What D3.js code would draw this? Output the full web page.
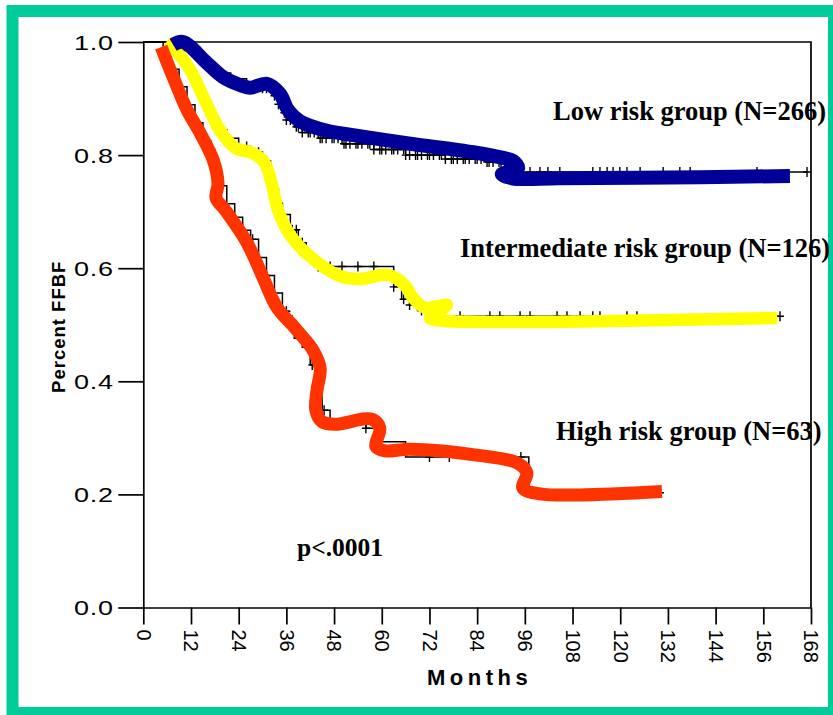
<!DOCTYPE html>
<html>
<head>
<meta charset="utf-8">
<script src="https://cdn.jsdelivr.net/npm/d3@7.9.0/dist/d3.min.js"></script>
<style>
  body { margin: 0; background: #fff; }
  svg { display: block; }
</style>
</head>
<body>
<svg width="833" height="715"></svg>
<script>
// axis ticks
const monthTicks = [0, 12, 24, 36, 48, 60, 72, 84, 96, 108, 120, 132, 144, 156, 168];
const ffbfTicks = [0, 0.2, 0.4, 0.6, 0.8, 1.0];

// hand-drawn trend curves (months, FFBF)
const lowTraceMonths = [7.5, 10.0, 16.0, 20.1, 24.3, 26.8, 31.1, 34.4, 36.4, 39.4, 46.2, 49.5, 66.3, 83.0, 90.5, 93.0, 94.3, 90.2, 92.8, 104.8, 140.1, 162.7];
const lowTraceFFBF = [0.995, 1.0, 0.963, 0.938, 0.924, 0.919, 0.926, 0.908, 0.880, 0.860, 0.843, 0.839, 0.821, 0.805, 0.795, 0.790, 0.777, 0.766, 0.759, 0.759, 0.761, 0.763];
const midTraceMonths = [5.5, 9.2, 12.2, 15.5, 19.3, 23.1, 27.4, 30.4, 32.4, 33.9, 36.9, 41.9, 49.5, 54.5, 61.6, 65.8, 67.9, 70.9, 76.4, 72.1, 75.9, 84.7, 102.3, 159.5];
const midTraceFFBF = [0.997, 0.976, 0.946, 0.897, 0.844, 0.813, 0.804, 0.788, 0.747, 0.703, 0.659, 0.621, 0.586, 0.581, 0.588, 0.570, 0.547, 0.530, 0.535, 0.512, 0.507, 0.505, 0.505, 0.512];
const highTraceMonths = [4.5, 7.5, 11.0, 14.3, 17.6, 18.8, 18.3, 20.6, 26.1, 30.1, 33.6, 38.2, 42.7, 44.5, 43.7, 43.4, 44.9, 48.2, 57.5, 59.5, 58.5, 60.8, 67.1, 83.4, 94.3, 96.5, 95.5, 99.8, 109.9, 130.5];
const highTraceFFBF = [0.991, 0.938, 0.880, 0.839, 0.791, 0.750, 0.724, 0.703, 0.645, 0.584, 0.531, 0.494, 0.455, 0.423, 0.384, 0.349, 0.329, 0.324, 0.333, 0.317, 0.285, 0.277, 0.280, 0.270, 0.255, 0.238, 0.211, 0.201, 0.199, 0.205];

// Kaplan-Meier steps underneath
const lowKmMonths = [0, 9, 13, 16, 19, 22, 26, 30, 33, 34, 35, 36, 38, 40, 44, 50, 58, 66, 76, 86, 94, 167];
const lowKmFFBF = [1, 0.985, 0.97, 0.958, 0.945, 0.935, 0.925, 0.918, 0.905, 0.89, 0.875, 0.862, 0.85, 0.84, 0.83, 0.82, 0.81, 0.80, 0.793, 0.788, 0.770, 0.770];
const lowCensored = [30, 31, 32.5, 33, 34, 35.5, 36, 37, 38.5, 39, 40, 41.5, 42, 43, 44.5, 45, 46, 47.5, 48, 49, 50.5, 51, 52, 53.5, 54, 55, 56.5, 57, 58, 59.5, 60, 61, 62.5, 63, 64, 65.5, 66, 67, 68.5, 69, 70, 71.5, 72, 73, 74.5, 75, 76, 77.5, 78, 79, 80.5, 81, 82, 83.5, 84, 85, 86.5, 87, 88, 89.5, 90, 91, 92.5, 94.8, 97.3, 99.8, 101.8, 104.8, 113.1, 114.9, 116.7, 118.2, 119.9, 121.7, 125, 130.8, 135, 137.6, 154.4, 167];

const midKmMonths = [0, 6, 9, 11, 13, 15, 17, 19, 21, 24, 27, 30, 32, 33, 34, 35, 37, 39, 41, 43, 63, 65, 67, 69, 72, 160];
const midKmFFBF = [1, 0.98, 0.965, 0.945, 0.92, 0.895, 0.865, 0.845, 0.83, 0.815, 0.805, 0.79, 0.765, 0.74, 0.715, 0.695, 0.668, 0.645, 0.625, 0.603, 0.567, 0.545, 0.535, 0.525, 0.515, 0.515];
const midCensored = [26, 29, 31, 34, 37.5, 38.5, 40, 41.5, 44, 47, 50, 54, 58, 63, 65.5, 67, 70, 79.7, 87.2, 89.7, 94.8, 97.3, 104.1, 106.6, 109.9, 113.1, 114.9, 121.7, 124.2, 160.2];

const highKmMonths = [0, 5, 7, 9, 11, 13, 15, 17, 18, 19, 21, 23, 25, 27, 29, 31, 33, 35, 36.5, 38, 40, 42, 44, 45, 47, 56, 59.5, 66, 97, 130];
const highKmFFBF = [1, 0.984, 0.952, 0.921, 0.889, 0.857, 0.825, 0.81, 0.778, 0.746, 0.714, 0.69, 0.667, 0.651, 0.619, 0.587, 0.556, 0.524, 0.508, 0.476, 0.46, 0.429, 0.397, 0.349, 0.333, 0.317, 0.293, 0.266, 0.203, 0.203];
const highCensored = [27.5, 31, 36, 37.5, 42.5, 45.5, 56, 72, 77, 95, 130];

const svg = d3.select('svg');
const x = d3.scaleLinear().domain([0, 168]).range([143.3, 811]);
const y = d3.scaleLinear().domain([0, 1]).range([607.5, 42]);

// teal frame
svg.append('rect')
  .attr('x', 12.5).attr('y', 11)
  .attr('width', 821.5).attr('height', 702)
  .attr('fill', 'none')
  .attr('stroke', '#00CC99')
  .attr('stroke-width', 12);

// axes
const xAxis = svg.append('g')
  .attr('transform', `translate(0,${y(0)})`)
  .call(d3.axisBottom(x).tickValues(monthTicks).tickSize(17).tickSizeOuter(0));
xAxis.selectAll('text')
  .attr('transform', 'rotate(90)')
  .attr('x', 22).attr('y', 0).attr('dy', '0.36em')
  .style('text-anchor', 'start')
  .style('font-family', 'Liberation Sans, Arial, sans-serif')
  .style('font-size', '20px')
  .attr('fill', '#000');

const yAxis = svg.append('g')
  .attr('transform', `translate(${x(0)},0)`)
  .call(d3.axisLeft(y).tickValues(ffbfTicks).tickSize(25).tickSizeOuter(0).tickFormat(d3.format('.1f')));
yAxis.selectAll('text')
  .attr('transform', 'scale(1.35,1)')
  .attr('x', -22)
  .attr('dy', '0.36em')
  .style('font-family', 'Liberation Sans, Arial, sans-serif')
  .style('font-size', '20px')
  .style('letter-spacing', '0.5px')
  .attr('fill', '#000');

svg.selectAll('.domain, .tick line').attr('stroke', '#000').attr('stroke-width', 1.7);

// top and right border of the plot box
svg.append('path')
  .attr('d', `M${x(0)},${y(1)}H${x(168)}V${y(0)}`)
  .attr('fill', 'none')
  .attr('stroke', '#000')
  .attr('stroke-width', 1.7);

// axis titles
svg.append('text')
  .attr('transform', `translate(65,${(y(0) + y(1)) / 2 + 2}) rotate(-90)`)
  .attr('text-anchor', 'middle')
  .style('font-family', 'Liberation Sans, Arial, sans-serif')
  .style('font-weight', 'bold')
  .style('font-size', '18.5px')
  .style('letter-spacing', '1px')
  .text('Percent FFBF');

svg.append('text')
  .attr('x', 427).attr('y', 685)
  .style('font-family', 'Liberation Sans, Arial, sans-serif')
  .style('font-weight', 'bold')
  .style('font-size', '22px')
  .style('letter-spacing', '4.5px')
  .text('Months');

// KM steps and censoring marks
function kmAt(months, ffbf, t) {
  let i = d3.bisectRight(months, t) - 1;
  return ffbf[Math.max(0, i)];
}

const stepLine = d3.line()
  .x(d => x(d[0]))
  .y(d => y(d[1]))
  .curve(d3.curveStepAfter);

const kmGroups = [
  [lowKmMonths, lowKmFFBF, lowCensored],
  [midKmMonths, midKmFFBF, midCensored],
  [highKmMonths, highKmFFBF, highCensored]
];

kmGroups.forEach(([months, ffbf, censored]) => {
  svg.append('path')
    .attr('d', stepLine(d3.zip(months, ffbf)))
    .attr('fill', 'none')
    .attr('stroke', '#000')
    .attr('stroke-width', 1.5);

  svg.append('g')
    .selectAll('path')
    .data(censored)
    .join('path')
    .attr('d', t => {
      const cx = x(t), cy = y(kmAt(months, ffbf, t));
      return `M${cx - 4},${cy}H${cx + 4}M${cx},${cy - 5}V${cy + 5}`;
    })
    .attr('stroke', '#000')
    .attr('stroke-width', 1.4);
});

// thick freehand curves
const smooth = d3.line()
  .x(d => x(d[0]))
  .y(d => y(d[1]))
  .curve(d3.curveCatmullRom.alpha(0.5));

const traces = [
  { months: midTraceMonths, ffbf: midTraceFFBF, color: '#FFFF00', width: 12.5 },
  { months: highTraceMonths, ffbf: highTraceFFBF, color: '#FF3300', width: 13 },
  { months: lowTraceMonths, ffbf: lowTraceFFBF, color: '#000099', width: 14 }
];

traces.forEach(tr => {
  svg.append('path')
    .attr('d', smooth(d3.zip(tr.months, tr.ffbf)))
    .attr('fill', 'none')
    .attr('stroke', tr.color)
    .attr('stroke-width', tr.width)
    .attr('stroke-linejoin', 'round')
    .attr('stroke-linecap', 'butt');
});

// group labels
const labelFont = 'Liberation Serif, Times New Roman, serif';
const groupLabels = [
  { text: 'Low risk group (N=266)', x: 553, y: 120 },
  { text: 'Intermediate risk group (N=126)', x: 460, y: 257 },
  { text: 'High risk group (N=63)', x: 556, y: 440 }
];

svg.append('g')
  .selectAll('text')
  .data(groupLabels)
  .join('text')
  .attr('x', d => d.x)
  .attr('y', d => d.y)
  .style('font-family', labelFont)
  .style('font-weight', 'bold')
  .style('font-size', '26.5px')
  .text(d => d.text);

svg.append('text')
  .attr('x', 297).attr('y', 556)
  .style('font-family', labelFont)
  .style('font-weight', 'bold')
  .style('font-size', '25.5px')
  .text('p<.0001');
</script>
</body>
</html>
